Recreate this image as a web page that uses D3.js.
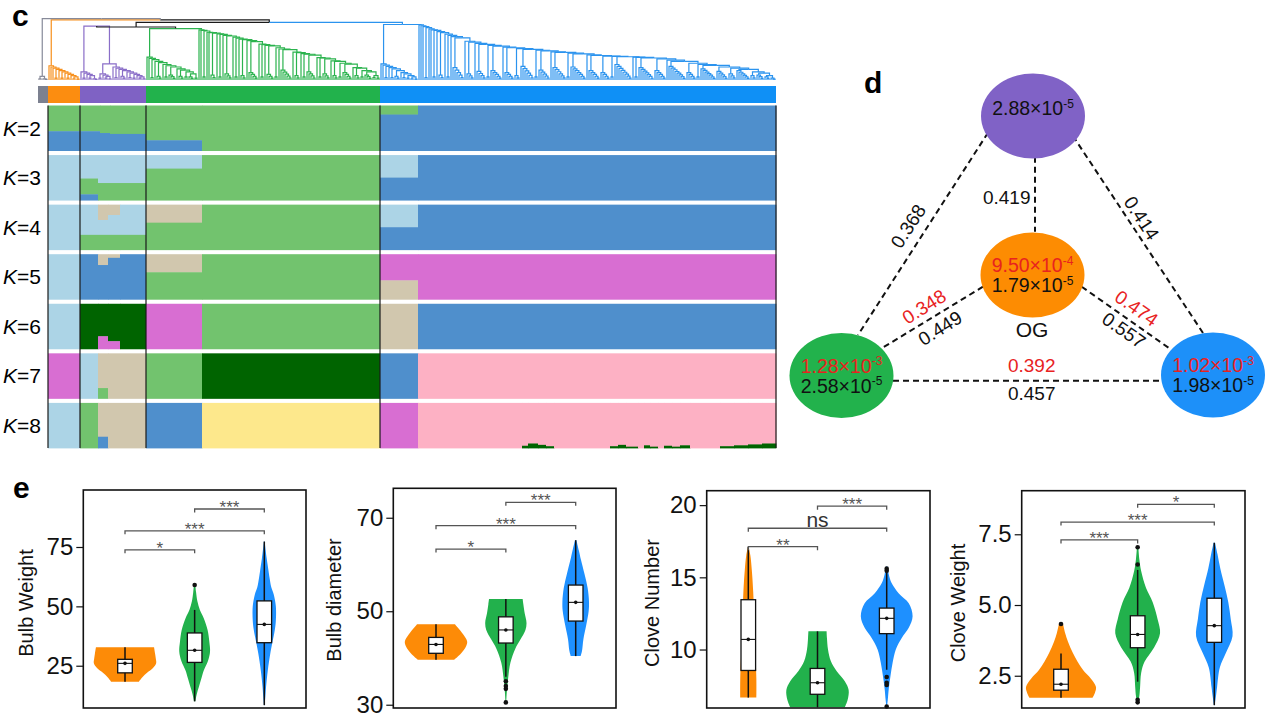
<!DOCTYPE html>
<html><head><meta charset="utf-8">
<script src="https://cdn.jsdelivr.net/npm/d3@7"></script>
<style>body{margin:0;background:#fff} text{font-family:"Liberation Sans",Arial,sans-serif}</style>
</head><body><svg id="fig" width="1268" height="718"></svg>
<script>
// ===================== DATA =====================
// ---- panel c: sample groups (sample counts, left to right) ----
const groupNames = ["gray","OG","purple","green","blue"];
const groupSizes = [5,16,33,117,198];
// dendrogram heights (0 = leaves, 1 = top)
const hRoot = 0.99, hOPGB = 0.97, hPGB = 0.93, hBlue = 0.895, hPurple = 0.87, hPG = 0.855, hGreen = 0.83, hPurpleB = 0.26;
// ladders: [leaves in subclade, backbone height, subclade height]
const grayLadder = [[2,0.06,0.02],[3,0.03,0.02]];
const orangeLadder = [[1,0.23,0],[1,0.21,0],[1,0.19,0],[2,0.17,0.03],[1,0.15,0],[2,0.13,0.03],[1,0.11,0],[2,0.09,0.03],[1,0.07,0],[2,0.05,0.02],[2,0.03,0.015]];
const purpleA = [[1,0.13,0],[2,0.11,0.03],[1,0.09,0],[2,0.07,0.03],[3,0.05,0.02]];
const purpleB1 = [[2,0.10,0.03],[1,0.08,0],[2,0.06,0.03],[2,0.04,0.02]];
const purpleB2 = [[1,0.21,0],[2,0.19,0.04],[1,0.17,0],[3,0.15,0.06],[1,0.13,0],[2,0.11,0.04],[2,0.09,0.03],[1,0.07,0],[2,0.05,0.03],[2,0.03,0.02]];
const greenA = [[1,0.37,0],[1,0.35,0],[2,0.33,0.04],[1,0.30,0],[3,0.28,0.06],[1,0.25,0],[2,0.23,0.05],[4,0.21,0.08],[1,0.18,0],[3,0.16,0.06],[2,0.13,0.05],[3,0.10,0.05],[2,0.06,0.03]];
const greenB = [[1,0.81,0],[1,0.80,0],[2,0.79,0.05],[1,0.77,0],[1,0.765,0],[3,0.755,0.08],[1,0.745,0],[2,0.735,0.05],[1,0.72,0],[4,0.71,0.10],[1,0.69,0],[2,0.675,0.05],[1,0.66,0],[3,0.65,0.07],[1,0.635,0],[5,0.62,0.12],[1,0.58,0],[2,0.57,0.05],[1,0.56,0],[4,0.55,0.09],[2,0.52,0.05],[1,0.50,0],[6,0.49,0.16],[1,0.45,0],[3,0.44,0.07],[1,0.425,0],[2,0.415,0.05],[5,0.40,0.13],[1,0.36,0],[2,0.355,0.05],[4,0.34,0.10],[1,0.31,0],[3,0.30,0.07],[2,0.27,0.05],[5,0.255,0.12],[1,0.20,0],[3,0.19,0.07],[2,0.15,0.05],[4,0.13,0.08],[2,0.07,0.04],[2,0.05,0.03]];
const blueA = [[1,0.26,0],[1,0.24,0],[2,0.22,0.04],[1,0.20,0],[2,0.18,0.04],[3,0.15,0.06],[1,0.12,0],[2,0.10,0.04],[2,0.07,0.03],[2,0.05,0.02],[2,0.03,0.015]];
const blueB = [[1,0.89,0],[1,0.875,0],[1,0.86,0],[2,0.845,0.04],[1,0.825,0],[1,0.81,0],[2,0.80,0.05],[1,0.78,0],[3,0.765,0.08],[1,0.74,0],[2,0.72,0.05],[1,0.70,0],[6,0.68,0.20],[1,0.625,0],[4,0.61,0.10],[1,0.59,0],[5,0.575,0.14],[2,0.56,0.05],[6,0.545,0.15],[1,0.53,0],[5,0.52,0.12],[3,0.505,0.07],[7,0.495,0.22],[2,0.48,0.05],[6,0.47,0.16],[1,0.455,0],[7,0.445,0.20],[2,0.435,0.05],[8,0.42,0.21],[1,0.405,0],[6,0.395,0.15],[5,0.385,0.12],[2,0.38,0.05],[9,0.375,0.25],[1,0.37,0],[2,0.365,0.05],[8,0.355,0.20],[6,0.34,0.15],[1,0.32,0],[9,0.30,0.22],[5,0.27,0.12],[2,0.25,0.05],[8,0.235,0.18],[6,0.21,0.14],[4,0.19,0.10],[7,0.17,0.15],[3,0.13,0.07],[4,0.11,0.08],[3,0.07,0.05],[3,0.04,0.03]];

// ---- admixture: [fromSample, toSample, [[component, fraction] top->bottom]] ----
const kValues = [2,3,4,5,6,7,8];
const admixK2 = [[5,21,[["LG",0.57],["SB",0.43]]],[21,31,[["LG",0.57],["SB",0.43]]],[31,36,[["LG",0.61],["SB",0.39]]],[36,54,[["LG",0.63],["SB",0.37]]],[54,82,[["LG",0.77],["SB",0.23]]],[82,171,[["LG",1]]],[171,190,[["LG",0.2],["SB",0.8]]],[190,369,[["SB",1]]]];
const admixK3 = [[5,21,[["LB",1]]],[21,30,[["LB",0.52],["LG",0.35],["SB",0.13]]],[30,54,[["LB",0.62],["LG",0.38]]],[54,82,[["LB",0.30],["LG",0.70]]],[82,171,[["LG",1]]],[171,190,[["LB",0.5],["SB",0.5]]],[190,369,[["SB",1]]]];
const admixK4 = [[5,21,[["LB",1]]],[21,30,[["LB",0.67],["LG",0.33]]],[30,35,[["TN",0.34],["LB",0.33],["LG",0.33]]],[35,41,[["TN",0.23],["LB",0.44],["LG",0.33]]],[41,54,[["LB",0.67],["LG",0.33]]],[54,82,[["TN",0.40],["LG",0.60]]],[82,171,[["LG",1]]],[171,190,[["LB",0.5],["SB",0.5]]],[190,369,[["SB",1]]]];
const admixK5 = [[5,21,[["LB",1]]],[21,30,[["SB",1]]],[30,35,[["TN",0.24],["SB",0.76]]],[35,41,[["TN",0.08],["SB",0.92]]],[41,54,[["SB",1]]],[54,82,[["TN",0.40],["LG",0.60]]],[82,171,[["LG",1]]],[171,190,[["MG",0.58],["TN",0.42]]],[190,369,[["MG",1]]]];
const admixK6 = [[5,21,[["LB",1]]],[21,30,[["DG",1]]],[30,35,[["DG",0.72],["MG",0.28]]],[35,41,[["DG",0.83],["MG",0.17]]],[41,54,[["DG",1]]],[54,82,[["MG",1]]],[82,171,[["LG",1]]],[171,190,[["TN",1]]],[190,369,[["SB",1]]]];
const admixK7 = [[5,21,[["MG",1]]],[21,30,[["LB",1]]],[30,35,[["TN",0.77],["LG",0.23]]],[35,54,[["TN",1]]],[54,82,[["LG",1]]],[82,171,[["DG",1]]],[171,190,[["SB",1]]],[190,369,[["PK",1]]]];
const admixK8 = [[5,21,[["LB",1]]],[21,30,[["LG",1]]],[30,35,[["TN",0.75],["SB",0.25]]],[35,54,[["TN",1]]],[54,82,[["SB",1]]],[82,171,[["YL",1]]],[171,190,[["MG",1]]],[190,242,[["PK",1]]],
 [242,245,[["PK",0.95],["DG",0.05]]],[245,250,[["PK",0.9],["DG",0.1]]],[250,254,[["PK",0.93],["DG",0.07]]],[254,258,[["PK",0.96],["DG",0.04]]],[258,286,[["PK",1]]],
 [286,290,[["PK",0.96],["DG",0.04]]],[290,294,[["PK",0.93],["DG",0.07]]],[294,300,[["PK",0.97],["DG",0.03]]],[300,303,[["PK",1]]],[303,306,[["PK",0.94],["DG",0.06]]],[306,310,[["PK",0.97],["DG",0.03]]],[310,313,[["PK",1]]],
 [313,317,[["PK",0.95],["DG",0.05]]],[317,321,[["PK",0.97],["DG",0.03]]],[321,326,[["PK",0.94],["DG",0.06]]],[326,341,[["PK",1]]],
 [341,348,[["PK",0.96],["DG",0.04]]],[348,355,[["PK",0.94],["DG",0.06]]],[355,362,[["PK",0.92],["DG",0.08]]],[362,369,[["PK",0.9],["DG",0.1]]]];

// ---- panel d ----
const popNames = ["purple","OG","green","blue"];
const piRedMant = [null,"9.50","1.28","1.02"];
const piRedExp = [null,"-4","-3","-3"];
const piBlackMant = ["2.88","1.79","2.58","1.98"];
const piBlackExp = ["-5","-5","-5","-5"];
const fstPairs = [["purple","green"],["purple","blue"],["purple","OG"],["OG","green"],["OG","blue"],["green","blue"]];
const fstBlack = ["0.368","0.414","0.419","0.449","0.557","0.457"];
const fstRed = [null,null,null,"0.348","0.474","0.392"];

// ---- panel e ----
const traitNames = ["Bulb Weight","Bulb diameter","Clove Number","Clove Weight"];
const groupsE = ["OG","green","blue"];
const ticksBW = [25,50,75], ticksBD = [30,50,70], ticksCN = [10,15,20], ticksCW = [2.5,5.0,7.5];
// violin profiles: [value, relative density]
const violinBW = [
 [[18.3,0.40],[20,0.49],[22,0.63],[24,0.80],[26,0.89],[28,0.88],[30,0.86],[32.8,0.83]],
 [[10,0.02],[13,0.06],[16,0.12],[20,0.2],[23,0.26],[27,0.38],[31,0.44],[35,0.42],[40,0.37],[45,0.26],[48.5,0.15],[52,0.08],[56,0.04],[59,0.02]],
 [[8.4,0.01],[12,0.03],[16,0.05],[23,0.1],[30,0.17],[34,0.22],[40,0.3],[44,0.33],[50,0.33],[55,0.27],[58,0.2],[62,0.15],[65,0.12],[70,0.07],[77.3,0.01]]];
const violinBD = [
 [[39.6,0.52],[41,0.72],[42.5,0.86],[43.5,0.89],[45,0.78],[46.5,0.62],[47.2,0.54]],
 [[30.5,0.01],[33,0.03],[36,0.07],[39,0.13],[42,0.27],[44,0.42],[46,0.56],[47.5,0.59],[49.5,0.54],[51.5,0.5],[52.6,0.48]],
 [[40.4,0.14],[41.5,0.18],[44,0.22],[47,0.3],[50,0.37],[52,0.38],[55,0.34],[58,0.25],[61,0.15],[63,0.09],[65.2,0.02]]];
const violinCN = [
 [[6.67,0.23],[8,0.23],[10,0.2],[12,0.17],[14,0.14],[15.5,0.1],[16.5,0.06],[17.1,0.01]],
 [[6.0,0.78],[6.5,0.86],[7.2,0.89],[7.8,0.78],[8.5,0.55],[9.2,0.38],[10,0.3],[10.8,0.27],[11.26,0.26]],
 [[6.05,0.01],[6.5,0.03],[7.3,0.06],[8.2,0.11],[9.1,0.17],[10,0.26],[10.8,0.43],[11.5,0.63],[12.3,0.74],[13.2,0.63],[13.9,0.34],[14.6,0.14],[15.2,0.06],[15.75,0.02]]];
const violinCW = [
 [[1.72,0.9],[1.9,0.97],[2.1,1.0],[2.4,0.85],[2.7,0.63],[3.0,0.47],[3.3,0.34],[3.7,0.2],[4.0,0.12],[4.33,0.06]],
 [[1.56,0.02],[1.8,0.05],[2.1,0.07],[2.6,0.1],[3.0,0.2],[3.5,0.47],[4.0,0.64],[4.5,0.57],[5.1,0.43],[5.6,0.24],[6.2,0.1],[6.6,0.05],[7.04,0.02]],
 [[1.46,0.01],[1.8,0.05],[2.1,0.08],[2.8,0.16],[3.3,0.33],[3.9,0.52],[4.5,0.47],[5.1,0.4],[5.7,0.29],[6.3,0.17],[6.8,0.09],[7.2,0.02]]];
// box stats: [q1, median, q3, whiskerLow, whiskerHigh]
const boxBW = [[22,26,27.7,18.3,32.8],[26.4,31.5,38.8,10,48.5],[34.7,42.4,52.3,8.4,77.3]];
const boxBD = [[41,42.9,44.4,39.6,47.2],[43.2,46,48.8,36,52.6],[47.9,51.9,55.6,40.4,65.2]];
const boxCN = [[8.55,10.7,13.45,6.67,17.1],[6.9,7.7,8.69,6.0,11.26],[11.1,12.16,12.87,8.6,15.3]];
const boxCW = [[1.99,2.2,2.73,1.72,3.29],[3.49,3.96,4.62,2.29,6.24],[3.68,4.27,5.24,1.46,7.2]];
const outBW = [[],[59],[]];
const outBD = [[],[35,34,33.4,30.5],[]];
const outCN = [[],[],[15.6,15.45,8.1,7.7,7.55,6.05]];
const outCW = [[4.33],[7.04,6.43,1.65,1.56],[]];
const sigBW = [["OG","green","*"],["OG","blue","***"],["green","blue","***"]];
const sigBD = [["OG","green","*"],["OG","blue","***"],["green","blue","***"]];
const sigCN = [["OG","green","**"],["OG","blue","ns"],["green","blue","***"]];
const sigCW = [["OG","green","***"],["OG","blue","***"],["green","blue","*"]];

// ===================== STYLE / LAYOUT =====================
const C = {gray:"#878a99", OG:"#f7901c", purple:"#8a6ec8", green:"#2bb34e", blue:"#2b93ee", black:"#1a1a1a"};
const barColors = {gray:"#7c8190", OG:"#fc8d10", purple:"#7f62c4", green:"#22b24c", blue:"#0f90f6"};
const admixColors = {LG:"#72c36e", SB:"#4f8fcc", LB:"#acd4e6", TN:"#d1c7ae", MG:"#d86ed2", DG:"#006400", PK:"#fdb1c4", YL:"#fde88c"};
const fillE = {OG:"#fd8b07", green:"#22b14c", blue:"#1e90ff"};
const fillD = {purple:"#8062c6", OG:"#fd8c02", green:"#22b24c", blue:"#1d90f9"};

const svg = d3.select("#fig");

// ===================== PANEL c =====================
svg.append("text").attr("x",12).attr("y",26).attr("font-size",30).attr("font-weight","bold").text("c");

const nTotal = d3.sum(groupSizes);
const xIdx = d3.scaleLinear().domain([0,nTotal]).range([38,776]);
const yDen = d3.scaleLinear().domain([0,1]).range([80,18]);
const nodes = [];
function leaf(i){ return {x:xIdx(i+0.5), h:0}; }
function join(a,b,h,col,colR){ const n={x:(a.x+b.x)/2,h,a,b,col,colR:colR||col}; nodes.push(n); return n; }
function fan(start,n,h,col){
  if(n===1) return leaf(start);
  let node = leaf(start+n-1);
  for(let k=n-2;k>=0;k--) node = join(leaf(start+k), node, h*(n-1-k)/(n-1), col);
  return node;
}
function ladder(start,steps,col){
  let pos=start;
  const subs = steps.map(s=>{ const f=fan(pos,s[0],s[2],col); pos+=s[0]; return f; });
  let node = subs[subs.length-1];
  for(let i=subs.length-2;i>=0;i--) node = join(subs[i], node, steps[i][1], col);
  return node;
}
const starts = d3.cumsum([0,...groupSizes]);
const tGray = ladder(starts[0], grayLadder, C.gray);
const tOrange = ladder(starts[1], orangeLadder, C.OG);
const pA = ladder(starts[2], purpleA, C.purple);
const pB1 = ladder(starts[2]+9, purpleB1, C.purple);
const pB2 = ladder(starts[2]+16, purpleB2, C.purple);
const tPurple = join(pA, join(pB1,pB2,hPurpleB,C.purple), hPurple, C.purple);
const gA = ladder(starts[3], greenA, C.green);
const gB = ladder(starts[3]+26, greenB, C.green);
const tGreen = join(gA, gB, hGreen, C.green);
const bA = ladder(starts[4], blueA, C.blue);
const bB = ladder(starts[4]+19, blueB, C.blue);
const tBlue = join(bA, bB, hBlue, C.blue);
const tPG = join(tPurple, tGreen, hPG, C.black);
const tPGB = join(tPG, tBlue, hPGB, C.black, C.blue);
const tOPGB = join(tOrange, tPGB, hOPGB, C.OG, C.black);
join(tGray, tOPGB, hRoot, C.gray);

const segs = [];
nodes.forEach(n=>{
  segs.push({d:`M${n.a.x},${yDen(n.a.h)}V${yDen(n.h)}H${n.x}`, c:n.col});
  segs.push({d:`M${n.x},${yDen(n.h)}H${n.b.x}V${yDen(n.b.h)}`, c:n.colR});
});
svg.append("g").selectAll("path").data(segs).join("path")
  .attr("d",d=>d.d).attr("fill","none").attr("stroke",d=>d.c).attr("stroke-width",1.2);

// colour bar
svg.append("g").selectAll("rect").data(groupNames).join("rect")
  .attr("x",(d,i)=>xIdx(starts[i])).attr("width",(d,i)=>xIdx(starts[i+1])-xIdx(starts[i]))
  .attr("y",86).attr("height",17).attr("fill",d=>barColors[d]);

// admixture
const rowScale = d3.scaleBand().domain(kValues).range([105.5,448]).paddingInner(0.09);
const bw = rowScale.bandwidth();
const admixByK = [admixK2,admixK3,admixK4,admixK5,admixK6,admixK7,admixK8];
kValues.forEach((k,i)=>{
  const rects=[];
  admixByK[i].forEach(([s,e,comps])=>{ let cum=0; comps.forEach(([c,f])=>{ rects.push({s,e,c,y0:cum,y1:cum+f}); cum+=f; }); });
  svg.append("g").selectAll("rect").data(rects).join("rect")
    .attr("x",d=>xIdx(d.s)).attr("width",d=>xIdx(d.e)-xIdx(d.s)+0.4)
    .attr("y",d=>rowScale(k)+d.y0*bw).attr("height",d=>(d.y1-d.y0)*bw+0.4)
    .attr("fill",d=>admixColors[d.c]);
  const t = svg.append("text").attr("x",41).attr("y",rowScale(k)+bw/2+7.5).attr("text-anchor","end").attr("font-size",21);
  t.append("tspan").attr("font-style","italic").text("K");
  t.append("tspan").text("="+k);
});
svg.append("g").selectAll("line").data([starts[1],starts[2],starts[3],starts[4],starts[5]]).join("line")
  .attr("x1",d=>xIdx(d)).attr("x2",d=>xIdx(d)).attr("y1",105.5).attr("y2",448)
  .attr("stroke","#1a1a1a").attr("stroke-width",1.2);

// ===================== PANEL d =====================
svg.append("text").attr("x",864).attr("y",93).attr("font-size",30).attr("font-weight","bold").text("d");
const nodeLayout = {purple:[1033,116], OG:[1032.5,275], green:[841.5,375.5], blue:[1213,375]};
const edgeLayout = [[988,132.7,858,335],[1073,136,1203,333],[1035,156.7,1035,231.7],[983,286.7,881.7,348.3],[1081.7,286.7,1171.7,350],[893,380.7,1161.7,380.7]];
const blackLabLayout = [[908,226,-57],[1141.7,218,57],[1006.7,197,0],[940,328,-32],[1124,330,35],[1031.7,393.3,0]];
const redLabLayout = [null,null,null,[924,306.5,-32],[1136.7,308,35],[1031.7,365,0]];

svg.append("g").selectAll("line").data(fstPairs).join("line")
  .attr("x1",(d,i)=>edgeLayout[i][0]).attr("y1",(d,i)=>edgeLayout[i][1])
  .attr("x2",(d,i)=>edgeLayout[i][2]).attr("y2",(d,i)=>edgeLayout[i][3])
  .attr("stroke","#111").attr("stroke-width",2).attr("stroke-dasharray","6,4");

svg.append("g").selectAll("ellipse").data(popNames).join("ellipse")
  .attr("cx",d=>nodeLayout[d][0]).attr("cy",d=>nodeLayout[d][1]).attr("rx",52).attr("ry",42.5)
  .attr("fill",d=>fillD[d]);

function sci(sel, mant, exp){
  sel.append("tspan").text(mant+"×10");
  sel.append("tspan").attr("font-size",12).attr("dy",-7.5).text(exp);
}
popNames.forEach((p,i)=>{
  const [cx,cy] = nodeLayout[p];
  if(piRedMant[i]){
    sci(svg.append("text").attr("x",cx).attr("y",cy-3).attr("text-anchor","middle").attr("font-size",19.5).attr("fill","#e8231f"), piRedMant[i], piRedExp[i]);
    sci(svg.append("text").attr("x",cx).attr("y",cy+17).attr("text-anchor","middle").attr("font-size",19.5).attr("fill","#111"), piBlackMant[i], piBlackExp[i]);
  } else {
    sci(svg.append("text").attr("x",cx).attr("y",cy-1).attr("text-anchor","middle").attr("font-size",19.5).attr("fill","#111"), piBlackMant[i], piBlackExp[i]);
  }
});
svg.append("text").attr("x",1032).attr("y",337).attr("text-anchor","middle").attr("font-size",21).attr("fill","#111").text("OG");
fstBlack.forEach((v,i)=>{
  const [x,y,r]=blackLabLayout[i];
  svg.append("text").attr("transform",`translate(${x},${y}) rotate(${r})`).attr("dy","0.36em")
    .attr("text-anchor","middle").attr("font-size",19).attr("fill","#111").text(v);
  if(fstRed[i]){
    const [xr,yr,rr]=redLabLayout[i];
    svg.append("text").attr("transform",`translate(${xr},${yr}) rotate(${rr})`).attr("dy","0.36em")
      .attr("text-anchor","middle").attr("font-size",19).attr("fill","#e8231f").text(fstRed[i]);
  }
});

// ===================== PANEL e =====================
svg.append("text").attr("x",13).attr("y",498).attr("font-size",30).attr("font-weight","bold").text("e");
const panels = [
 {name:traitNames[0], ticks:ticksBW, fmt:d3.format("d"), vio:violinBW, box:boxBW, out:outBW, sig:sigBW, sigLv:[73.8,81.8,91],
  L:{x0:83.3,x1:306,y0:490,y1:708,dom:[7.2,99],cx:[125,264.3],lab:[26,603]}},
 {name:traitNames[1], ticks:ticksBD, fmt:d3.format("d"), vio:violinBD, box:boxBD, out:outBD, sig:sigBD, sigLv:[63.3,68.3,73.3],
  L:{x0:393.3,x1:616,y0:488.3,y1:708,dom:[29.3,76.3],cx:[436,575.7],lab:[334,600]}},
 {name:traitNames[2], ticks:ticksCN, fmt:d3.format("d"), vio:violinCN, box:boxCN, out:outCN, sig:sigCN, sigLv:[17.12,18.4,19.93],
  L:{x0:706.7,x1:930,y0:490.7,y1:708,dom:[5.95,21.0],cx:[748.3,886.7],lab:[652,603]}},
 {name:traitNames[3], ticks:ticksCW, fmt:d3.format(".1f"), vio:violinCW, box:boxCW, out:outCW, sig:sigCW, sigLv:[7.3,7.93,8.56],
  L:{x0:1021.7,x1:1245,y0:490.7,y1:708,dom:[1.36,9.04],cx:[1061,1214.3],lab:[958,603]}}
];
const wS = d3.scaleLinear().domain([0,1]).range([0,35]);
const boxHalf = 7.3;
panels.forEach(P=>{
  const L=P.L;
  const y = d3.scaleLinear().domain(L.dom).range([L.y1,L.y0]);
  const x = d3.scalePoint().domain(groupsE).range(L.cx);
  const g = svg.append("g");
  groupsE.forEach((grp,i)=>{
    const cx = x(grp);
    const area = d3.area().curve(d3.curveCatmullRom.alpha(0.5))
      .y(d=>y(d[0])).x0(d=>cx-wS(d[1])).x1(d=>cx+wS(d[1]));
    g.append("path").attr("d",area(P.vio[i])).attr("fill",fillE[grp]);
    const [q1,med,q3,lo,hi] = P.box[i];
    g.append("line").attr("x1",cx).attr("x2",cx).attr("y1",y(lo)).attr("y2",y(hi)).attr("stroke","#111").attr("stroke-width",1.5);
    g.append("rect").attr("x",cx-boxHalf).attr("width",2*boxHalf).attr("y",y(q3)).attr("height",y(q1)-y(q3))
      .attr("fill","#fff").attr("stroke","#111").attr("stroke-width",1.3);
    g.append("line").attr("x1",cx-boxHalf).attr("x2",cx+boxHalf).attr("y1",y(med)).attr("y2",y(med)).attr("stroke","#111").attr("stroke-width",1.1);
    g.append("circle").attr("cx",cx).attr("cy",y(med)).attr("r",1.8).attr("fill","#111");
    g.selectAll(null).data(P.out[i]).join("circle").attr("cx",cx).attr("cy",d=>y(d)).attr("r",2.3).attr("fill","#111");
  });
  g.append("rect").attr("x",L.x0).attr("y",L.y0).attr("width",L.x1-L.x0).attr("height",L.y1-L.y0)
    .attr("fill","none").attr("stroke","#111").attr("stroke-width",1.6);
  const ax = g.append("g").attr("transform",`translate(${L.x0},0)`)
    .call(d3.axisLeft(y).tickValues(P.ticks).tickFormat(P.fmt).tickSize(7).tickPadding(3));
  ax.select(".domain").remove();
  ax.selectAll("text").attr("font-size",24).attr("fill","#111").attr("font-family","Liberation Sans, Arial, sans-serif");
  ax.selectAll("line").attr("stroke","#111").attr("stroke-width",1.2);
  // significance brackets
  P.sig.forEach(([a,b,lab],j)=>{
    const yy = y(P.sigLv[j]), xa=x(a), xb=x(b);
    g.append("path").attr("d",`M${xa},${yy+3.5}V${yy}H${xb}V${yy+3.5}`).attr("fill","none").attr("stroke","#555").attr("stroke-width",1.3);
    if(lab==="ns") g.append("text").attr("x",(xa+xb)/2).attr("y",yy-1).attr("text-anchor","middle").attr("font-size",21).attr("fill","#333").text(lab);
    else g.append("text").attr("x",(xa+xb)/2).attr("y",yy+4).attr("text-anchor","middle").attr("font-size",17).attr("fill","#555").text(lab);
  });
  g.append("text").attr("transform",`translate(${L.lab[0]},${L.lab[1]}) rotate(-90)`).attr("dy","0.36em")
    .attr("text-anchor","middle").attr("font-size",20).attr("fill","#111").text(P.name);
});
</script></body></html>
